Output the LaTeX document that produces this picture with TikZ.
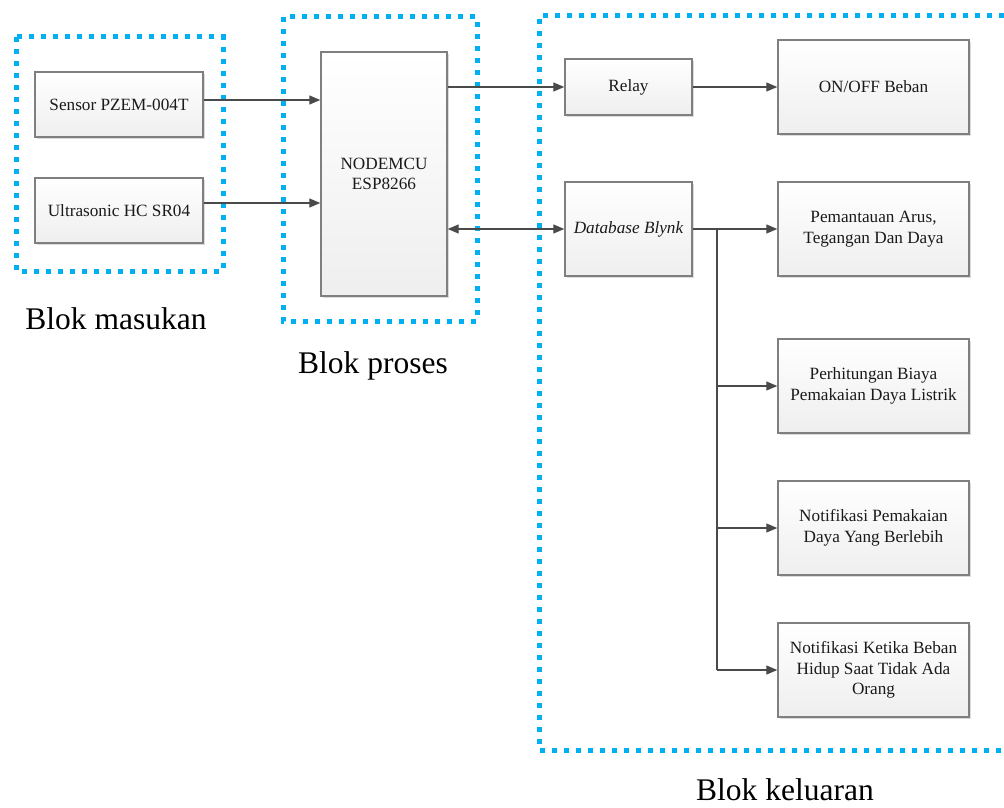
\documentclass[tikz,border=0pt]{standalone}
\usepackage{fontspec}
\setmainfont{Liberation Serif}
\usetikzlibrary{arrows.meta,shadows}
\definecolor{dotblue}{HTML}{00B0F0}
\definecolor{boxline}{HTML}{7F7F7F}
\definecolor{arrowc}{HTML}{4A4A4A}
\definecolor{txt}{HTML}{1A1A1A}
\tikzset{
  blockbox/.style={draw=boxline, line width=1.4pt, top color=white, bottom color=gray!13,
    drop shadow={shadow xshift=1.8pt, shadow yshift=-1.8pt, fill=gray!35, opacity=0.8},
    inner sep=2pt, align=center, text=txt,
    font=\fontsize{17.2}{20.5}\selectfont},
  groupline/.style={draw=dotblue, line width=5pt, dash pattern=on 5pt off 7pt},
  conn/.style={draw=arrowc, line width=1.3pt, -{Triangle[length=11pt,width=9pt]}},
  bconn/.style={draw=arrowc, line width=1.3pt, {Triangle[length=11pt,width=9pt]}-{Triangle[length=11pt,width=9pt]}},
  plain/.style={draw=arrowc, line width=1.3pt},
  grouplabel/.style={font=\fontsize{31.5}{36}\selectfont, text=black, inner sep=0pt}
}
\begin{document}
\begin{tikzpicture}[x=1pt,y=-1pt]
\useasboundingbox (0,0) rectangle (1004,808);
% group outlines
\draw[groupline] (16,37) rectangle (223,271);
\draw[groupline] (283,17) rectangle (477,321);
\draw[groupline] (1004,16) -- (539,16) -- (539,750) -- (1004,750);
% nodes
\node[blockbox, minimum width=168pt, minimum height=65pt] (sensor) at (119,104.5) {Sensor PZEM-004T};
\node[blockbox, minimum width=168pt, minimum height=65pt] (ultra) at (119,210.5) {Ultrasonic HC SR04};
\node[blockbox, minimum width=126pt, minimum height=244pt] (mcu) at (384,174) {NODEMCU\\ESP8266};
\node[blockbox, minimum width=127pt, minimum height=56pt] (relay) at (628.5,87) {Relay};
\node[blockbox, minimum width=191pt, minimum height=94pt] (onoff) at (873.5,87) {ON/OFF Beban};
\node[blockbox, minimum width=127pt, minimum height=94pt] (db) at (628.5,229) {\itshape Database Blynk};
\node[blockbox, minimum width=191pt, minimum height=94pt] (pem) at (873.5,229) {Pemantauan Arus,\\Tegangan Dan Daya};
\node[blockbox, minimum width=191pt, minimum height=94pt] (perh) at (873.5,386) {Perhitungan Biaya\\Pemakaian Daya Listrik};
\node[blockbox, minimum width=191pt, minimum height=94pt] (notp) at (873.5,528) {Notifikasi Pemakaian\\Daya Yang Berlebih};
\node[blockbox, minimum width=191pt, minimum height=94pt] (notk) at (873.5,670) {Notifikasi Ketika Beban\\Hidup Saat Tidak Ada\\Orang};
% labels
\node[grouplabel, anchor=base] (lin) at (116,329) {Blok masukan};
\node[grouplabel, anchor=base] (lproc) at (373,373) {Blok proses};
\node[grouplabel, anchor=base] (lout) at (785,800) {Blok keluaran};
% connectors
\draw[conn] ([yshift=4.5pt]sensor.east) -- ([yshift=4.5pt]sensor.east -| mcu.west);
\draw[conn] ([yshift=7.5pt]ultra.east) -- ([yshift=7.5pt]ultra.east -| mcu.west);
\draw[conn] (relay.west -| mcu.east) -- (relay.west);
\draw[bconn] (db.west -| mcu.east) -- (db.west);
\draw[conn] (relay.east) -- (onoff.west);
\coordinate (trunktop) at (717,229);
\coordinate (trunkbot) at (717,670);
\draw[conn] (db.east) -- (pem.west);
\draw[plain] (trunktop) -- (trunkbot);
\draw[conn] (trunktop |- perh.west) -- (perh.west);
\draw[conn] (trunktop |- notp.west) -- (notp.west);
\draw[conn] (trunkbot) -- (notk.west);
\end{tikzpicture}
\end{document}
